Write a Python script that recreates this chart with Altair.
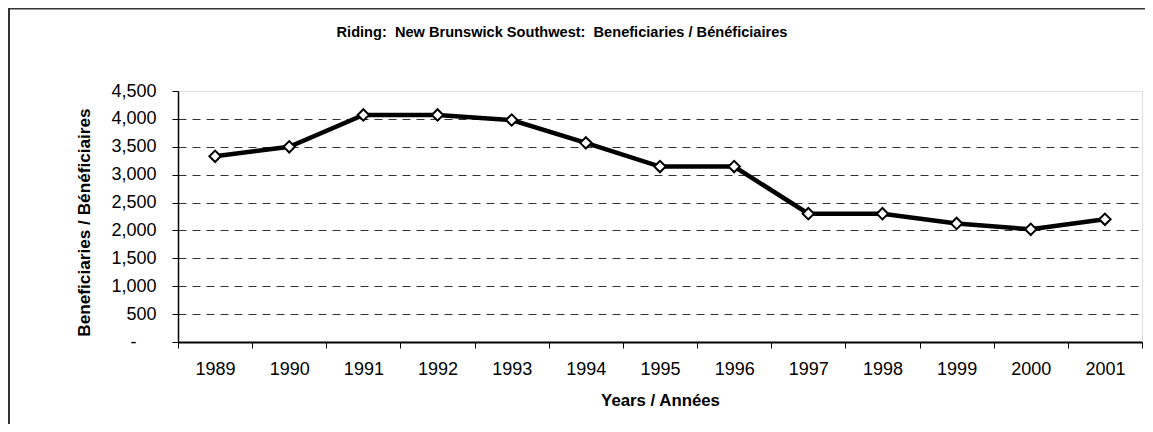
import altair as alt
import pandas as pd

years = ["1989", "1990", "1991", "1992", "1993", "1994", "1995",
         "1996", "1997", "1998", "1999", "2000", "2001"]
beneficiaries = [3330, 3500, 4070, 4070, 3980, 3570, 3145,
                 3145, 2300, 2300, 2125, 2020, 2200]
y_ticks = [0, 500, 1000, 1500, 2000, 2500, 3000, 3500, 4000, 4500]

title_text = "Riding:\u00a0 New Brunswick Southwest:\u00a0 Beneficiaries / Bénéficiaires"
x_title = "Years / Années"
y_title = "Beneficiaries / Bénéficiaires"

df = pd.DataFrame({"year": years, "value": beneficiaries})

W, H = 964, 251
SANS = "Liberation Sans"

x_enc = alt.X(
    "year:O",
    scale=alt.Scale(type="band", paddingInner=0, paddingOuter=0),
    axis=alt.Axis(
        title=x_title, labelAngle=0, tickBand="extent",
        labelFont=SANS, labelFontSize=18, labelColor="black", labelPadding=12,
        tickColor="black", tickSize=6, domainColor="black", domainWidth=2,
        titleFont=SANS, titleFontSize=16.8, titleFontWeight="bold",
        titleX=W / 2, titleY=58, titleBaseline="middle", titleColor="black",
        grid=False,
    ),
)
y_enc = alt.Y(
    "value:Q",
    scale=alt.Scale(domain=[0, 4500], nice=False),
    axis=alt.Axis(
        title=y_title, values=y_ticks, labelOverlap=False,
        labelExpr="datum.value == 0 ? '-' : format(datum.value, ',')",
        labelFont=SANS, labelFontSize=18, labelColor="black",
        labelPadding={"condition": {"test": "datum.value == 0", "value": 36}, "value": 16},
        tickColor="black", tickSize=6, domainColor="black", domainWidth=1.5,
        titleFont=SANS, titleFontSize=17.2, titleFontWeight="bold", titleColor="black",
        titleX=-94, titleY=131, titleBaseline="middle", titleAngle=-90,
        grid=True, gridColor="#333333", gridDash=[8, 6], gridWidth=1,
        gridOpacity={"condition": {"test": "datum.value == 0 || datum.value == 4500", "value": 0}, "value": 1},
    ),
)

base = alt.Chart(df).encode(x=x_enc, y=y_enc)
line = base.mark_line(color="black", strokeWidth=4.5)
points = base.mark_point(shape="diamond", filled=True, fill="white", stroke="black",
                         strokeWidth=2, size=130, opacity=1)

single = alt.Data(values=[{"label": title_text}])
left_frame = alt.Chart(single).mark_rule(color="#333333", strokeWidth=2).encode(
    x=alt.value(-169), y=alt.value(-84), y2=alt.value(340))
top_frame = alt.Chart(single).mark_rule(color="#333333", strokeWidth=2).encode(
    x=alt.value(-171), x2=alt.value(980), y=alt.value(-82.5))
title = alt.Chart(single).mark_text(font=SANS, fontSize=14.6, fontWeight="bold", color="black",
                                    align="center", baseline="alphabetic").encode(
    text="label:N", x=alt.value(384), y=alt.value(-54))

chart = alt.layer(left_frame, top_frame, title, line, points).properties(
    width=W, height=H,
    autosize=alt.AutoSizeParams(type="none"),
    padding={"left": 170, "top": 83, "right": 3, "bottom": 82},
).configure_view(stroke="#808080", strokeWidth=1).configure(background="white")

chart.save("out.html", embed_options={"renderer": "svg", "actions": False})
